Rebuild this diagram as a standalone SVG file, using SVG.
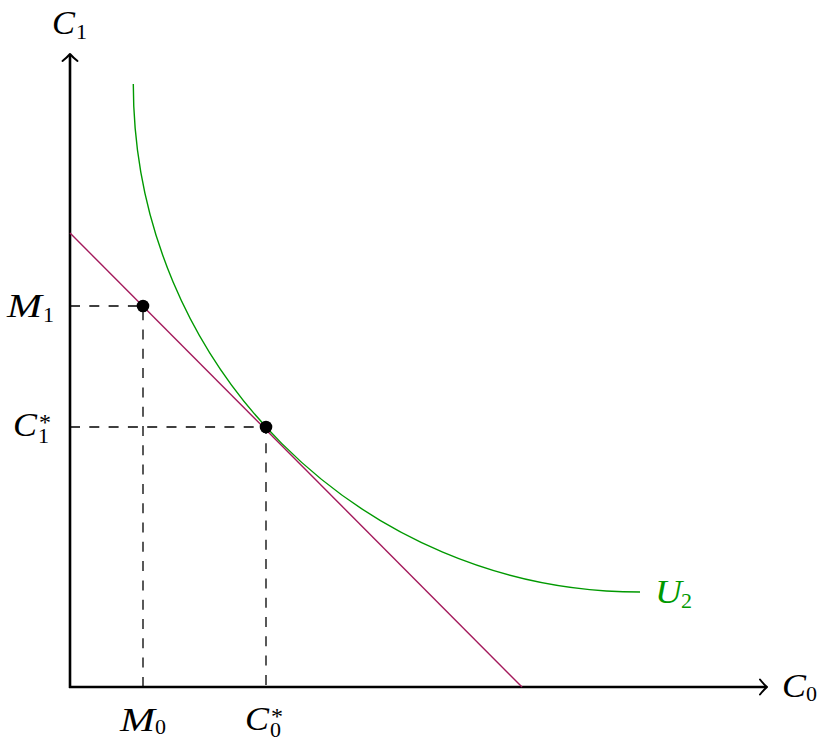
<svg xmlns="http://www.w3.org/2000/svg" width="826" height="742" viewBox="0 0 826 742">
<style>
.axis{stroke:#000;stroke-width:2.6;fill:none}
.tip{stroke:#000;stroke-width:2;fill:none;stroke-linecap:round;stroke-linejoin:round}
.dash{stroke:#000;stroke-width:1.3;fill:none;stroke-dasharray:10 9.3}
.budget{stroke:#a3195b;stroke-width:1.4;fill:none}
.util{stroke:#009900;stroke-width:1.4;fill:none}
.dot{fill:#000}
text{font-family:"Liberation Serif","DejaVu Serif",serif}
.v{font-style:italic;font-size:33px}
.s{font-size:22px}
.st{font-size:24px}
</style>
<rect width="826" height="742" fill="#fff"/>
<g id="connectors">
  <line class="axis" x1="70" y1="688" x2="70" y2="55"/>
  <path class="tip" d="M62.5,61 Q67,57.5 70,54 Q73,57.5 77.5,61"/>
  <line class="axis" x1="69" y1="687" x2="766" y2="687"/>
  <path class="tip" d="M760,679.5 Q763.5,684 767,687 Q763.5,690 760,694.5"/>
  <path class="dash" d="M70,306 H143 V687"/>
  <path class="dash" d="M70,427 H266 V687"/>
  <line class="budget" x1="70" y1="233" x2="522" y2="687"/>
  <path class="util" d="M133.3,84 C133.3,365 360,592 640,592"/>
</g>
<g id="p-m"><circle class="dot" cx="143" cy="306" r="6.3"/></g>
<g id="p-c"><circle class="dot" cx="266" cy="427" r="6.3"/></g>
<g id="label-c1"><text x="52" y="34" class="v" textLength="23" lengthAdjust="spacingAndGlyphs">C</text><text x="76" y="39" class="s">1</text></g>
<g id="label-c0"><text x="782" y="697" class="v" textLength="24" lengthAdjust="spacingAndGlyphs">C</text><text x="806" y="701" class="s">0</text></g>
<g id="label-m1"><text x="7" y="317" class="v" textLength="35" lengthAdjust="spacingAndGlyphs">M</text><text x="43" y="322" class="s">1</text></g>
<g id="label-c1s"><text x="13" y="436" class="v" textLength="24" lengthAdjust="spacingAndGlyphs">C</text><text class="s"><tspan x="39" y="430" class="st">*</tspan><tspan x="38" y="443">1</tspan></text></g>
<g id="label-m0"><text x="120" y="731" class="v" textLength="35" lengthAdjust="spacingAndGlyphs">M</text><text x="155" y="734" class="s">0</text></g>
<g id="label-c0s"><text x="245" y="730" class="v" textLength="24" lengthAdjust="spacingAndGlyphs">C</text><text class="s"><tspan x="271" y="724" class="st">*</tspan><tspan x="270" y="737">0</tspan></text></g>
<g id="label-u2"><text x="655" y="603" class="v" fill="#009900" textLength="27" lengthAdjust="spacingAndGlyphs">U</text><text x="681" y="608" class="s" fill="#009900">2</text></g>
</svg>
